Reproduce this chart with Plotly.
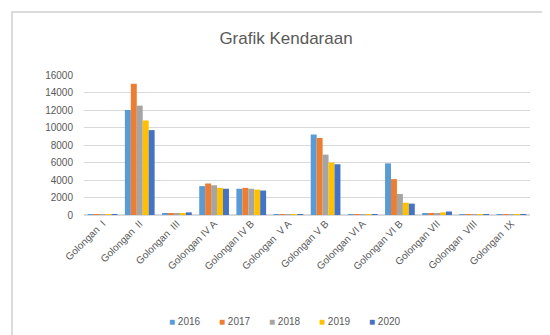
import plotly.graph_objects as go

categories = ["Golongan  I", "Golongan  II", "Golongan  III", "Golongan IV A", "Golongan IV B",
              "Golongan  V A", "Golongan V B", "Golongan VI A", "Golongan VI B", "Golongan VII",
              "Golongan  VIII", "Golongan  IX"]
years = ["2016", "2017", "2018", "2019", "2020"]
v2016 = [100, 12000, 200, 3300, 3000, 100, 9200, 100, 5900, 200, 100, 100]
v2017 = [100, 15000, 200, 3600, 3100, 100, 8800, 100, 4100, 200, 100, 100]
v2018 = [100, 12500, 200, 3400, 3000, 100, 6900, 100, 2400, 200, 100, 100]
v2019 = [100, 10800, 200, 3100, 2900, 100, 6000, 100, 1400, 300, 100, 100]
v2020 = [100, 9700, 300, 3000, 2800, 100, 5800, 100, 1300, 400, 100, 100]
series = [v2016, v2017, v2018, v2019, v2020]
colors = ["#5B9BD5", "#ED7D31", "#A5A5A5", "#FFC000", "#4472C4"]

# the page body has an 8px margin, so work in window pixels and shift
OFF = 8
W, H = 550 - OFF, 335 - OFF
# plot area in window pixels: x 84..530, y 75..215
L, R, T, B = 84 - OFF, 550 - 530, 75 - OFF, 335 - 215
pw, ph = W - L - R, H - T - B

def px_x(p):  # window pixel -> paper x
    return (p - OFF - L) / pw

def px_y(p):  # window pixel -> paper y
    return (215 - p) / ph

fig = go.Figure()
for y, vals, c in zip(years, series, colors):
    fig.add_trace(go.Bar(name=y, x=categories, y=vals, showlegend=False,
                         marker=dict(color=c, line=dict(width=0))))

# compact Excel-style legend with small squares
annotations = []
for i, (y, c) in enumerate(zip(years, colors)):
    annotations.append(dict(
        xref="paper", yref="paper", x=px_x(167 + i * 50), y=px_y(321),
        xanchor="left", yanchor="middle", showarrow=False,
        text=f"<span style='color:{c}'>■</span> {y}",
        font=dict(size=10, color="#595959")))

fig.update_layout(
    width=W, height=H,
    paper_bgcolor="white", plot_bgcolor="white",
    margin=dict(l=L, r=R, t=T, b=B),
    barmode="group", bargap=0.2, bargroupgap=0,
    font=dict(family="Liberation Sans, Arial", color="#595959", size=10),
    title=dict(text="Grafik Kendaraan", x=px_x(286), xref="paper", xanchor="center",
               y=1 - (38 - OFF) / H, yanchor="middle",
               font=dict(size=17, color="#595959")),
    annotations=annotations,
    shapes=[dict(type="rect", xref="paper", yref="paper", x0=px_x(12), x1=px_x(547),
                 y0=px_y(400), y1=px_y(12), line=dict(color="#CFCFCF", width=1.5),
                 layer="above")],
)
fig.update_xaxes(tickangle=-45, automargin=False, showline=False, ticks="",
                 tickfont=dict(size=10, color="#595959"))
fig.update_yaxes(range=[0, 16000], dtick=2000, tickformat="d", gridcolor="#D9D9D9",
                 zeroline=True, zerolinecolor="#D9D9D9", automargin=False,
                 tickfont=dict(size=10, color="#595959"), ticklabelstandoff=10)

fig.write_html("out.html")
